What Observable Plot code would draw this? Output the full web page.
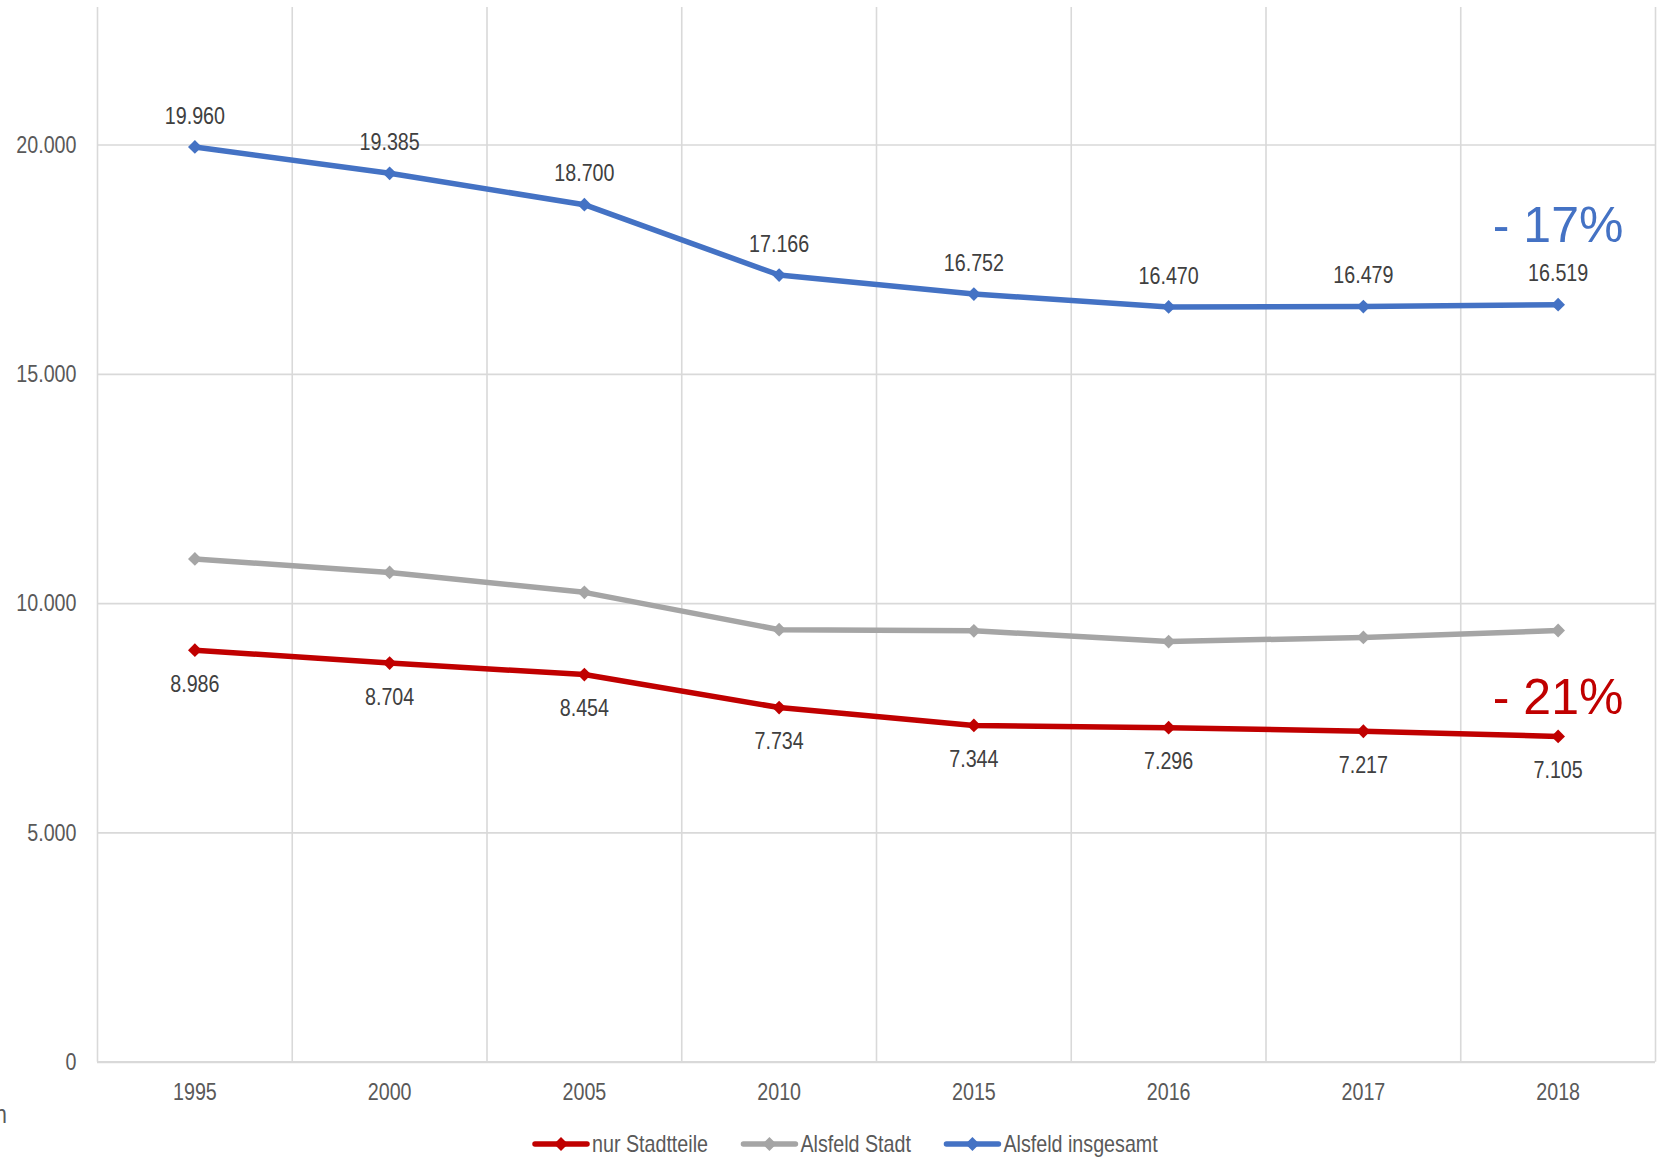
<!DOCTYPE html>
<html>
<head>
<meta charset="utf-8">
<script src="https://cdn.jsdelivr.net/npm/d3@7"></script>
<script src="https://cdn.jsdelivr.net/npm/@observablehq/plot@0.6"></script>
<style>
  html, body { margin: 0; padding: 0; background: #fff; }
  #wrap { position: relative; width: 1665px; height: 1157px; overflow: hidden; }
  #legend { position: absolute; left: 0; top: 1124px; }
  #stray { position: absolute; left: 0; top: 1095px; }
</style>
</head>
<body>
<div id="wrap">
  <div id="chart"></div>
  <svg id="legend" width="1665" height="40"></svg>
  <svg id="stray" width="20" height="40"><text class="narrow" x="-5" y="28" font-family="'Liberation Sans',Arial,sans-serif" font-size="26" fill="#595959">n</text></svg>
</div>
<script>
const years = ["1995", "2000", "2005", "2010", "2015", "2016", "2017", "2018"];
const nurStadtteile = [8986, 8704, 8454, 7734, 7344, 7296, 7217, 7105];
const alsfeldStadt = [10974, 10681, 10246, 9432, 9408, 9174, 9262, 9414];
const alsfeldInsgesamt = [19960, 19385, 18700, 17166, 16752, 16470, 16479, 16519];
const seriesNames = ["nur Stadtteile", "Alsfeld Stadt", "Alsfeld insgesamt"];
const seriesColors = ["#C00000", "#A5A5A5", "#4472C4"];
const yTicks = [0, 5000, 10000, 15000, 20000];
const changeRed = "- 21%";
const changeBlue = "- 17%";

const seriesValues = [nurStadtteile, alsfeldStadt, alsfeldInsgesamt];
const rows = [];
seriesNames.forEach((s, k) => {
  seriesValues[k].forEach((v, i) => rows.push({ i, year: years[i], value: v, series: s }));
});

const de = d3.formatLocale({ decimal: ",", thousands: ".", grouping: [3], currency: ["", " €"] });
const fmt = de.format(",");

const font = "'Liberation Sans', Arial, sans-serif";
const squeeze = 0.82;
const lastIdx = years.length - 1;
const boundaries = d3.range(years.length + 1).map(i => i - 0.5);

const chart = Plot.plot({
  width: 1665,
  height: 1115,
  marginLeft: 97,
  marginRight: 10,
  marginTop: 7,
  marginBottom: 53.3,
  style: { fontFamily: font, fontSize: "24px", color: "#595959", background: "#fff", overflow: "visible" },
  x: { type: "linear", domain: [-0.5, years.length - 0.5] },
  y: { domain: [0, 23000] },
  color: { domain: seriesNames, range: seriesColors },
  marks: [
    Plot.ruleX(boundaries, { stroke: "#D9D9D9", strokeWidth: 1.6 }),
    Plot.ruleY(yTicks.filter(v => v > 0), { stroke: "#D9D9D9", strokeWidth: 1.6 }),
    Plot.ruleY([0], { stroke: "#D9D9D9", strokeWidth: 2.2 }),
    Plot.axisY({ ticks: yTicks, tickSize: 0, tickPadding: 21, tickFormat: fmt, label: null, fontSize: 24 }),
    Plot.axisX({ ticks: d3.range(years.length), tickFormat: i => years[i], tickSize: 0, tickPadding: 21, label: null, fontSize: 24 }),
    Plot.lineY(rows, { x: "i", y: "value", z: "series", stroke: "series", strokeWidth: 5.5, strokeLinejoin: "round" }),
    Plot.dot(rows, { x: "i", y: "value", fill: "series", symbol: "diamond2", r: 6.2 }),
    Plot.text(rows.filter(d => d.series === "Alsfeld insgesamt"), { x: "i", y: "value", text: d => fmt(d.value), dy: -31, fill: "#404040", fontSize: 24 }),
    Plot.text(rows.filter(d => d.series === "nur Stadtteile"), { x: "i", y: "value", text: d => fmt(d.value), dy: 34, fill: "#404040", fontSize: 24 }),
    Plot.text(rows.filter(d => d.series === "Alsfeld insgesamt" && d.i === lastIdx), { x: "i", y: "value", text: () => changeBlue, dy: -79, fill: seriesColors[2], fontSize: 50, className: "pct" }),
    Plot.text(rows.filter(d => d.series === "nur Stadtteile" && d.i === lastIdx), { x: "i", y: "value", text: () => changeRed, dy: -38, fill: seriesColors[0], fontSize: 50, className: "pct" })
  ]
});
document.getElementById("chart").appendChild(chart);

// condensed look of the original (Arial Narrow-like) text
function narrowText(t) {
  const len = t.getComputedTextLength();
  if (len > 0) {
    t.setAttribute("textLength", (len * squeeze).toFixed(2));
    t.setAttribute("lengthAdjust", "spacingAndGlyphs");
  }
}
chart.querySelectorAll("text").forEach(t => {
  if (!t.closest(".pct")) narrowText(t);
});
document.querySelectorAll("#stray text").forEach(narrowText);

// legend
const leg = d3.select("#legend");
let lx = 534;
const cy = 20;
seriesNames.forEach((s, k) => {
  const c = seriesColors[k];
  leg.append("line").attr("x1", lx + 1).attr("x2", lx + 53).attr("y1", cy).attr("y2", cy)
    .attr("stroke", c).attr("stroke-width", 5.5).attr("stroke-linecap", "round");
  leg.append("path").attr("d", `M${lx + 27},${cy - 7} L${lx + 34},${cy} L${lx + 27},${cy + 7} L${lx + 20},${cy} Z`).attr("fill", c);
  const t = leg.append("text").attr("x", lx + 58).attr("y", cy).attr("dy", "0.35em")
    .attr("font-family", font).attr("font-size", 24).attr("fill", "#595959").text(s);
  const len = t.node().getComputedTextLength() * squeeze;
  t.attr("textLength", len.toFixed(2)).attr("lengthAdjust", "spacingAndGlyphs");
  lx += 58 + len + 34.5;
});
</script>
</body>
</html>
